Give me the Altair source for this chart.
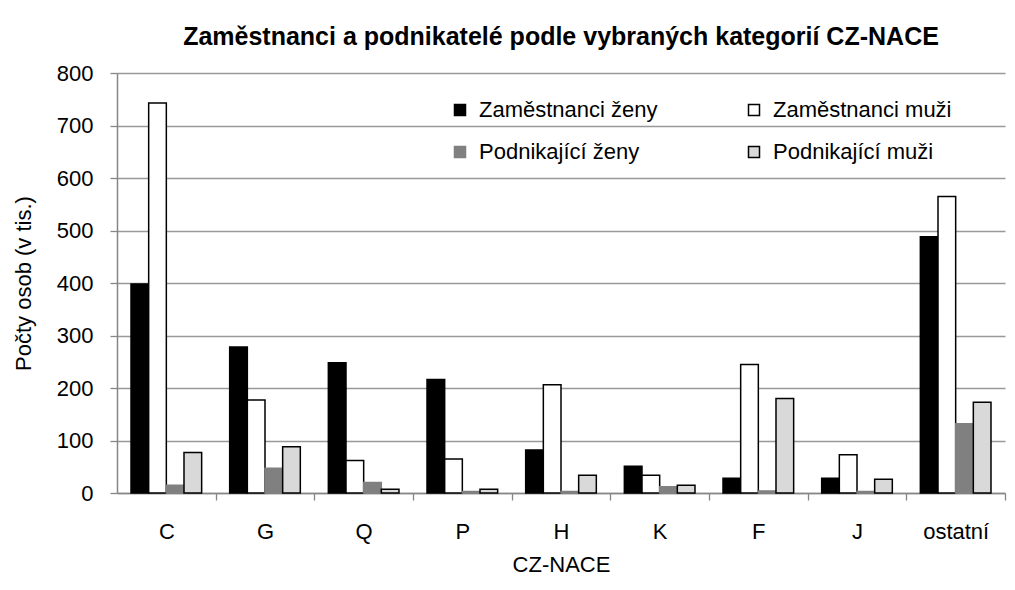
import altair as alt
import pandas as pd

kategorie = ["C", "G", "Q", "P", "H", "K", "F", "J", "ostatní"]
serie = ["Zaměstnanci ženy", "Zaměstnanci muži", "Podnikající ženy", "Podnikající muži"]
zam_zeny = [398, 278, 248, 216, 82, 51, 28, 28, 488]
zam_muzi = [743, 177, 62, 65, 206, 34, 245, 73, 565]
pod_zeny = [15, 47, 20, 3, 3, 12, 4, 3, 132]
pod_muzi = [77, 88, 7, 7, 34, 15, 180, 26, 173]
osa_y = [0, 100, 200, 300, 400, 500, 600, 700, 800]

barvy = ["#000000", "#ffffff", "#808080", "#d9d9d9"]
obrysy = ["#000000", "#000000", "#808080", "#000000"]

rows = []
for s, vals in zip(serie, [zam_zeny, zam_muzi, pod_zeny, pod_muzi]):
    for k, v in zip(kategorie, vals):
        rows.append({"kategorie": k, "serie": s, "hodnota": v})
df = pd.DataFrame(rows)

W, H = 888, 420
step = W / len(kategorie)
FONT = "Liberation Sans"
GRID = "#999999"
AX = "#868686"

legenda = alt.Legend(
    title=None, orient="none", legendX=332, legendY=26, columns=2,
    direction="horizontal",
    symbolType="square", symbolSize=121, symbolStrokeWidth=1.5,
    labelFont=FONT, labelFontSize=22, labelColor="#000000", labelOffset=8,
    labelLimit=400, columnPadding=85, rowPadding=20, padding=0,
)

chart = alt.Chart(df).mark_bar(strokeWidth=1.5).encode(
    x=alt.X("kategorie:N", sort=kategorie,
            scale=alt.Scale(paddingInner=0.284, paddingOuter=0.142),
            axis=alt.Axis(title="CZ-NACE", labelAngle=0, tickSize=7,
                          tickOffset=step / 2, labelOffset=-step / 2,
                          labelPadding=21, labelFont=FONT, labelFontSize=22,
                          labelColor="#000000", titleFont=FONT, titleFontSize=22,
                          titleFontWeight="normal", titleColor="#000000",
                          titleY=78, titleBaseline="alphabetic",
                          domainColor=AX, domainWidth=1.5, tickColor=AX, tickWidth=1.3,
                          grid=False)),
    xOffset=alt.XOffset("serie:N", sort=serie,
                        scale=alt.Scale(paddingInner=0, paddingOuter=0)),
    y=alt.Y("hodnota:Q", scale=alt.Scale(domain=[0, 800], nice=False),
            axis=alt.Axis(title="Počty osob (v tis.)", values=osa_y, tickSize=7,
                          labelPadding=17, labelFont=FONT, labelFontSize=22,
                          labelColor="#000000", titleFont=FONT, titleFontSize=22,
                          titleFontWeight="normal", titleColor="#000000",
                          titleX=-94, titleY=H / 2, titleAngle=-90,
                          titleAlign="center", titleBaseline="middle",
                          domainColor=AX, domainWidth=1.5, tickColor=AX, tickWidth=1.3,
                          gridColor=GRID, gridWidth=1.3)),
    fill=alt.Fill("serie:N", scale=alt.Scale(domain=serie, range=barvy), legend=legenda),
    stroke=alt.Stroke("serie:N", scale=alt.Scale(domain=serie, range=obrysy), legend=legenda),
).properties(
    width=W, height=H,
    title=alt.TitleParams("Zaměstnanci  a podnikatelé  podle vybraných  kategorií  CZ-NACE",
                          font=FONT, fontSize=25, fontWeight="bold", color="#000000",
                          anchor="middle", frame="group", offset=12),
    autosize=alt.AutoSizeParams(type="none"),
    padding={"left": 109, "top": 65, "right": 2, "bottom": 84},
).configure_view(stroke=None)

chart.save("out.html", embed_options={"renderer": "svg", "actions": False})
